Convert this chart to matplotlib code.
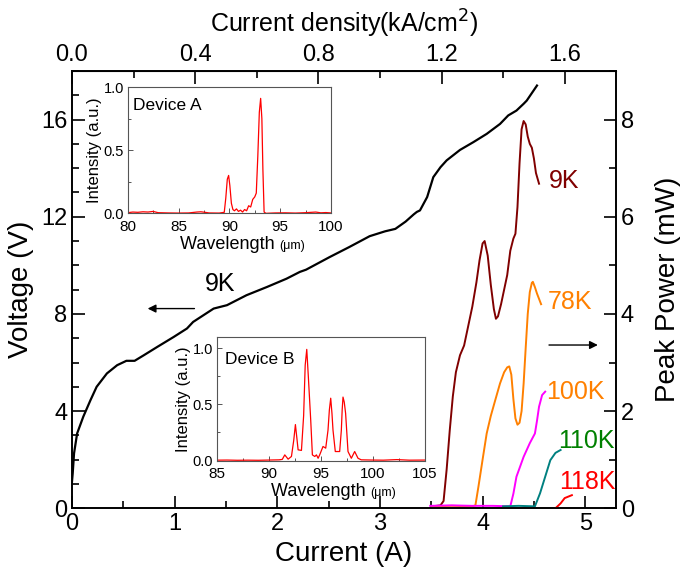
import matplotlib
matplotlib.use("Agg")
import matplotlib.pyplot as plt
from matplotlib.ticker import MultipleLocator, FixedLocator, FormatStrFormatter

REG = ['Liberation Sans', 'DejaVu Sans']
plt.rcParams['font.family'] = REG

# ---- Voltage (9K) ----
iv_current = [0.0, 0.007, 0.02, 0.05, 0.11, 0.18, 0.24, 0.34, 0.44, 0.53, 0.61, 0.70, 0.83,
              0.99, 1.12, 1.18, 1.38, 1.51, 1.70, 1.90, 2.09, 2.22, 2.28, 2.51, 2.70, 2.90,
              3.05, 3.15, 3.25, 3.33, 3.36, 3.39, 3.46, 3.52, 3.59, 3.65, 3.78, 3.91, 4.04,
              4.17, 4.25, 4.33, 4.40, 4.43, 4.53]
iv_voltage = [1.1, 1.44, 2.26, 3.08, 3.77, 4.45, 5.0, 5.55, 5.89, 6.07, 6.07, 6.30, 6.64,
              7.05, 7.40, 7.67, 8.22, 8.36, 8.77, 9.11, 9.45, 9.73, 9.82, 10.34, 10.75, 11.2,
              11.4, 11.5, 11.8, 12.1, 12.2, 12.26, 12.81, 13.63, 14.04, 14.32, 14.75, 15.07,
              15.41, 15.82, 16.17, 16.37, 16.65, 16.78, 17.4]

# ---- Peak power curves ----
i_9k = [3.50, 3.55, 3.59, 3.62, 3.65, 3.68, 3.71, 3.74, 3.78, 3.82, 3.86, 3.90, 3.94, 3.97,
        4.00, 4.02, 4.05, 4.08, 4.11, 4.13, 4.15, 4.18, 4.21, 4.24, 4.27, 4.30, 4.32, 4.34,
        4.36, 4.38, 4.40, 4.42, 4.44, 4.46, 4.48, 4.50, 4.52, 4.55]
p_9k = [0.04, 0.05, 0.06, 0.15, 0.8, 1.6, 2.3, 2.8, 3.15, 3.35, 3.75, 4.15, 4.65, 5.1,
        5.45, 5.5, 5.2, 4.6, 4.1, 3.9, 3.95, 4.2, 4.5, 4.8, 5.3, 5.55, 5.65, 6.2,
        7.1, 7.8, 7.97, 7.9, 7.65, 7.5, 7.42, 7.2, 6.9, 6.68]
i_78k = [3.50, 3.70, 3.90, 3.93, 3.96, 4.00, 4.04, 4.08, 4.12, 4.17, 4.21, 4.24, 4.26, 4.28,
         4.30, 4.32, 4.34, 4.36, 4.38, 4.40, 4.42, 4.44, 4.46, 4.48, 4.49, 4.51, 4.53, 4.57]
p_78k = [0.04, 0.05, 0.04, 0.06, 0.45, 1.0, 1.54, 1.9, 2.2, 2.57, 2.8, 2.9, 2.92, 2.75,
         2.25, 1.85, 1.72, 1.76, 2.0, 2.57, 3.3, 4.0, 4.45, 4.64, 4.66, 4.55, 4.42, 4.20]
i_100k = [3.49, 3.70, 3.90, 4.10, 4.27, 4.30, 4.33, 4.40, 4.46, 4.51, 4.53, 4.55, 4.58, 4.61]
p_100k = [0.05, 0.06, 0.05, 0.05, 0.04, 0.3, 0.65, 1.06, 1.34, 1.54, 1.8, 2.09, 2.33, 2.40]
i_110k = [4.20, 4.35, 4.51, 4.56, 4.61, 4.66, 4.71, 4.76]
p_110k = [0.04, 0.05, 0.04, 0.31, 0.65, 0.99, 1.14, 1.20]
i_118k = [4.71, 4.76, 4.80, 4.87]
p_118k = [0.0, 0.10, 0.21, 0.27]

labels_T = ['9K', '78K', '100K', '110K', '118K']
label_pos_I = [4.79, 4.85, 4.90, 5.01, 5.02]
label_pos_P = [6.73, 4.24, 2.39, 1.38, 0.54]

density_ticks = [0.0, 0.4, 0.8, 1.2, 1.6]

# ---- Inset spectra ----
wl_a = [80.0, 80.5, 81.0, 81.5, 82.0, 82.5, 83.0, 84.0, 85.0, 86.0, 86.8, 87.2, 87.6, 88.0,
        89.0, 89.5, 89.65, 89.8, 89.93, 90.05, 90.2, 90.35, 90.5, 90.7, 90.9, 91.1, 91.3,
        91.5, 91.7, 91.9, 92.1, 92.3, 92.5, 92.65, 92.8, 92.95, 93.08, 93.2, 93.3, 93.42,
        93.6, 94.5, 95.5, 96.5, 97.5, 98.5, 99.0, 99.5, 100.0]
int_a = [0.005, 0.01, 0.008, 0.012, 0.01, 0.015, 0.005, 0.003, 0.002, 0.003, 0.01, 0.012,
         0.008, 0.003, 0.002, 0.008, 0.12, 0.27, 0.30, 0.22, 0.08, 0.03, 0.02, 0.035, 0.015,
         0.025, 0.01, 0.03, 0.02, 0.06, 0.05, 0.11, 0.13, 0.16, 0.45, 0.80, 0.91, 0.75, 0.35,
         0.01, 0.0, 0.003, 0.004, 0.002, 0.005, 0.01, 0.004, 0.006, 0.003]
wl_b = [85.0, 86.0, 87.0, 88.0, 89.0, 90.0, 91.0, 91.3, 91.54, 91.86, 92.18, 92.4, 92.56,
        92.7, 92.82, 93.14, 93.35, 93.5, 93.65, 93.8, 94.03, 94.19, 94.42, 94.58, 94.74,
        94.89, 95.21, 95.47, 95.69, 95.82, 95.95, 96.07, 96.17, 96.39, 96.81, 96.97, 97.05,
        97.13, 97.25, 97.38, 97.61, 97.93, 98.25, 98.57, 98.88, 100.0, 101.0, 102.3, 103.5,
        105.0]
int_b = [0.003, 0.004, 0.002, 0.003, 0.002, 0.004, 0.006, 0.01, 0.05, 0.012, 0.036, 0.18,
         0.32, 0.20, 0.095, 0.09, 0.40, 0.85, 0.99, 0.75, 0.36, 0.05, 0.036, 0.05, 0.02, 0.05,
         0.125, 0.11, 0.27, 0.45, 0.555, 0.42, 0.27, 0.08, 0.08, 0.27, 0.45, 0.565, 0.52,
         0.42, 0.08, 0.02, 0.08, 0.02, 0.006, 0.004, 0.003, 0.008, 0.003, 0.004]

fig = plt.figure(figsize=(6.85, 5.77), dpi=100)
ax = fig.add_axes([0.1051, 0.1191, 0.7942, 0.7579])
ax2 = ax.twinx()

ax.plot(iv_current, iv_voltage, color='black', lw=1.6)
ax.set_xlim(0, 5.3)
ax.set_ylim(0, 18)
ax2.set_ylim(0, 9)

series = [(i_9k, p_9k, '#800000'), (i_78k, p_78k, '#FF8000'), (i_100k, p_100k, '#FF00FF'),
          (i_110k, p_110k, '#008080'), (i_118k, p_118k, '#FF0000')]
for xs, ys, c in series:
    ax2.plot(xs, ys, color=c, lw=1.4)
label_colors = ['#800000', '#FF8000', '#FF8000', '#008000', '#FF0000']
for t, xi, yp, c in zip(labels_T, label_pos_I, label_pos_P, label_colors):
    ax2.text(xi, yp, t, color=c, fontsize=18, ha='center', va='center')

# arrows and 9K label for voltage
ax.annotate('', xy=(0.71, 8.22), xytext=(1.22, 8.22),
            arrowprops=dict(arrowstyle='-|>', color='black', lw=1.0, mutation_scale=12))
ax.text(1.44, 9.22, '9K', fontsize=18, ha='center', va='center')
ax2.annotate('', xy=(5.15, 3.36), xytext=(4.62, 3.36),
             arrowprops=dict(arrowstyle='-|>', color='black', lw=1.0, mutation_scale=12))

# axes styling
for a in (ax, ax2):
    for s in a.spines.values():
        s.set_linewidth(1.2)
ax.xaxis.set_major_locator(MultipleLocator(1))
ax.xaxis.set_minor_locator(MultipleLocator(0.5))
ax.yaxis.set_major_locator(MultipleLocator(4))
ax.yaxis.set_minor_locator(MultipleLocator(1))
ax2.yaxis.set_major_locator(MultipleLocator(2))
ax2.yaxis.set_minor_locator(MultipleLocator(1))
ax.tick_params(which='major', direction='in', length=9, width=1.2, labelsize=17)
ax.tick_params(which='minor', direction='in', length=5, width=1.2)
ax2.tick_params(which='major', direction='in', length=9, width=1.2, labelsize=17)
ax2.tick_params(which='minor', direction='in', length=5, width=1.2)

secx = ax.secondary_xaxis('top', functions=(lambda x: x / 3.0, lambda d: d * 3.0))
secx.xaxis.set_major_locator(FixedLocator(density_ticks))
secx.xaxis.set_minor_locator(FixedLocator([0.2, 0.6, 1.0, 1.4]))
secx.tick_params(which='major', direction='in', length=9, width=1.2, labelsize=17)
secx.tick_params(which='minor', direction='in', length=5, width=1.2)
secx.xaxis.set_major_formatter(FormatStrFormatter('%.1f'))
secx.set_xlabel('Current density(kA/cm$^2$)', fontsize=18, labelpad=8)

ax.set_xlabel('Current (A)', fontsize=20, labelpad=4)
ax.set_ylabel('Voltage (V)', fontsize=20, labelpad=5)
ax2.set_ylabel('Peak Power (mW)', fontsize=20, labelpad=15)


def style_inset(a):
    for s in a.spines.values():
        s.set_color('#555555')
        s.set_linewidth(0.8)
    a.tick_params(which='both', direction='in', color='#555555', width=0.7)
    a.tick_params(axis='x', pad=5, labelsize=11)
    a.tick_params(axis='y', pad=2.5, labelsize=10.5)
    a.tick_params(which='major', length=3.5)
    a.tick_params(which='minor', length=2)
    a.yaxis.set_major_locator(MultipleLocator(0.5))
    a.yaxis.set_minor_locator(MultipleLocator(0.25))
    a.yaxis.set_major_formatter(FormatStrFormatter('%.1f'))
    a.xaxis.set_major_locator(MultipleLocator(5))
    a.xaxis.set_minor_locator(MultipleLocator(2.5))
    a.set_ylabel('Intensity (a.u.)', fontsize=12, labelpad=1)
    t1 = a.text(0.5, -0.18, 'Wavelength ', transform=a.transAxes, fontsize=13,
                ha='center', va='top')
    a.annotate('(μm)', xy=(1.0, 0.05), xycoords=t1, fontsize=9, ha='left', va='bottom')


axA = fig.add_axes([0.1864, 0.6303, 0.2968, 0.2189])
axA.plot(wl_a, int_a, color='#FF0000', lw=0.9)
axA.set_xlim(80, 100)
axA.set_ylim(0, 1.0)
style_inset(axA)
axA.text(0.026, 0.915, 'Device A', transform=axA.transAxes, fontsize=12.5, va='top', ha='left')

axB = fig.add_axes([0.3163, 0.2019, 0.3041, 0.2140])
axB.plot(wl_b, int_b, color='#FF0000', lw=0.9)
axB.set_xlim(85, 105)
axB.set_ylim(0, 1.1)
style_inset(axB)
axB.text(0.04, 0.878, 'Device B', transform=axB.transAxes, fontsize=12.5, va='top', ha='left')

fig.savefig('out.png', dpi=100)
